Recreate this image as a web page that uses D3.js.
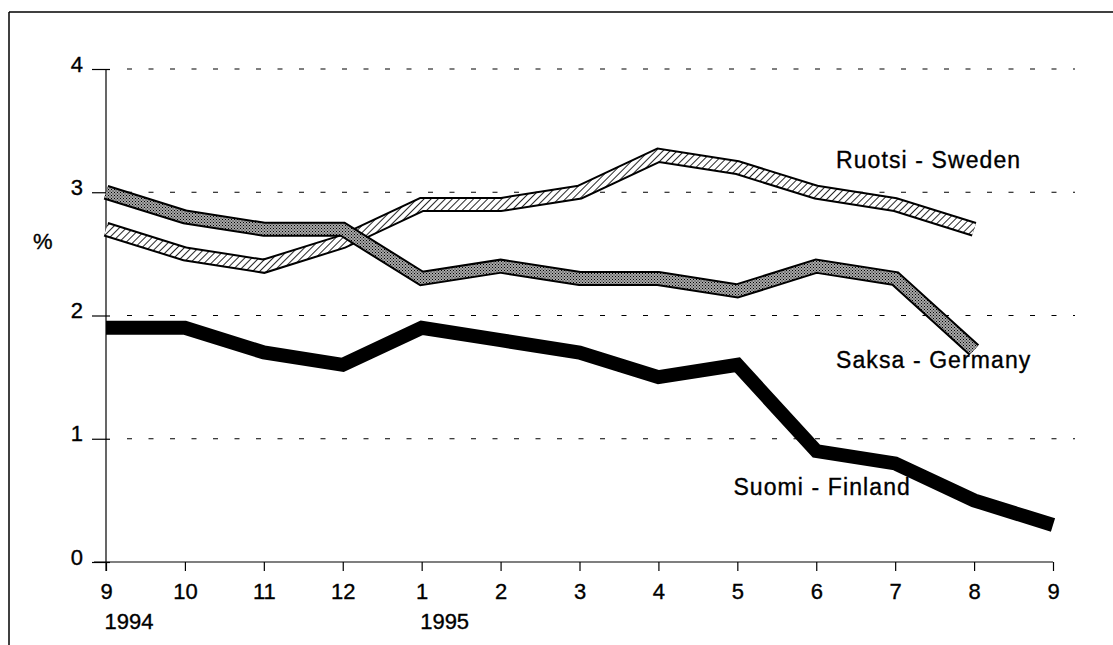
<!DOCTYPE html>
<html><head><meta charset="utf-8">
<script src="https://cdn.jsdelivr.net/npm/d3@7/dist/d3.min.js"></script>
<style>body{margin:0;background:#fff}svg{display:block}text{font-family:"Liberation Sans",Arial,Helvetica,sans-serif;fill:#000;stroke:#000;stroke-width:0.35px}</style>
</head><body><svg id="c" width="1113" height="645"></svg>
<script>
const months = ["9","10","11","12","1","2","3","4","5","6","7","8","9"];
const yearLabels = ["1994","","","","1995","","","","","","","",""];
const finland = [1.9,1.9,1.7,1.6,1.9,1.8,1.7,1.5,1.6,0.9,0.8,0.5,0.3];
const germany = [3.0,2.8,2.7,2.7,2.3,2.4,2.3,2.3,2.2,2.4,2.3,1.72];
const sweden  = [2.7,2.5,2.4,2.6,2.9,2.9,3.0,3.3,3.2,3.0,2.9,2.7];
const yTicks = [0,1,2,3,4];
const labels = [
  {name:"Ruotsi - Sweden", x:9.25, y:3.2},
  {name:"Saksa - Germany", x:9.25, y:1.57},
  {name:"Suomi - Finland", x:7.95, y:0.54}
];

const svg = d3.select("#c");
const x = d3.scaleLinear().domain([0,12]).range([106,1053]);
const y = d3.scaleLinear().domain([0,4]).range([562,69]);
const FS = 22;

// patterns
const defs = svg.append("defs");
const hatch = defs.append("pattern").attr("id","hatch").attr("patternUnits","userSpaceOnUse")
  .attr("width",5).attr("height",5).attr("patternTransform","rotate(45)");
hatch.append("rect").attr("width",5).attr("height",5).attr("fill","#fff");
hatch.append("line").attr("x1",0).attr("y1",0).attr("x2",0).attr("y2",5).attr("stroke","#000").attr("stroke-width",1.7);
const dots = defs.append("pattern").attr("id","dots").attr("patternUnits","userSpaceOnUse")
  .attr("width",3).attr("height",3);
dots.append("rect").attr("width",3).attr("height",3).attr("fill","#a8a8a8");
dots.append("rect").attr("width",1).attr("height",1).attr("fill","#000");
dots.append("rect").attr("x",1.5).attr("y",1.5).attr("width",1).attr("height",1).attr("fill","#111");

// frame
svg.append("line").attr("x1",9).attr("x2",1113).attr("y1",12).attr("y2",12).attr("stroke","#000").attr("stroke-width",1.5);
svg.append("line").attr("x1",9).attr("x2",9).attr("y1",12).attr("y2",645).attr("stroke","#000").attr("stroke-width",1.5);

// gridlines
svg.append("g").selectAll("line").data(yTicks.filter(d=>d>0)).join("line")
  .attr("x1",x(0)+21).attr("x2",1075).attr("y1",d=>y(d)).attr("y2",d=>y(d))
  .attr("stroke","#000").attr("stroke-width",1.2).attr("stroke-dasharray","5,16.5");

// axes
const yAxis = d3.axisLeft(y).tickValues(yTicks).tickSize(14).tickPadding(8).tickFormat(d3.format("d"));
const gy = svg.append("g").attr("transform",`translate(${x(0)},0)`).call(yAxis);
gy.attr("font-family",null).attr("font-size",null);
gy.select(".domain").remove();
gy.append("line").attr("x1",0).attr("x2",0).attr("y1",y(4)).attr("y2",y(0)+9).attr("stroke","#000").attr("stroke-width",1.2);
gy.selectAll(".tick line").attr("stroke-width",1.2).attr("x2",4).attr("x1",-14);
gy.selectAll(".tick text").attr("font-size",FS).attr("x",-23).attr("dy","0.1em");

const xAxis = d3.axisBottom(x).tickValues(d3.range(13)).tickSize(9).tickPadding(12).tickFormat(i=>months[i]);
const gx = svg.append("g").attr("transform",`translate(0,${y(0)})`).call(xAxis);
gx.attr("font-family",null).attr("font-size",null);
gx.select(".domain").remove();
gx.append("line").attr("x1",x(0)-12).attr("x2",x(12)).attr("y1",0).attr("y2",0).attr("stroke","#000").attr("stroke-width",1.2);
gx.selectAll(".tick line").attr("stroke-width",1.2);
gx.selectAll(".tick text").attr("font-size",FS);
gx.selectAll(".tick").append("text").attr("y",67).attr("x",-2).attr("text-anchor","start")
  .attr("font-size",FS).style("fill","#000").text(i=>yearLabels[i]);

svg.append("text").attr("x",33).attr("y",249).attr("font-size",FS).text("%");

// series
const line = d3.line().x((d,i)=>x(i)).y(d=>y(d)).curve(d3.curveLinear);
function band(data, fillId){
  const g = svg.append("g");
  g.append("path").attr("d",line(data)).attr("fill","none").attr("stroke","#000").attr("stroke-width",15).attr("stroke-linejoin","miter").attr("stroke-linecap","butt");
  g.append("path").attr("d",line(data)).attr("fill","none").attr("stroke",`url(#${fillId})`).attr("stroke-width",11).attr("stroke-linejoin","miter").attr("stroke-linecap","butt");
}
band(sweden,"hatch");
band(germany,"dots");
svg.append("path").attr("d",line(finland)).attr("fill","none").attr("stroke","#000").attr("stroke-width",14).attr("stroke-linejoin","miter").attr("stroke-linecap","butt");

svg.append("g").selectAll("text").data(labels).join("text")
  .attr("x",d=>x(d.x)).attr("y",d=>y(d.y)).attr("font-size",23).attr("letter-spacing","1.1px").text(d=>d.name);
</script></body></html>
